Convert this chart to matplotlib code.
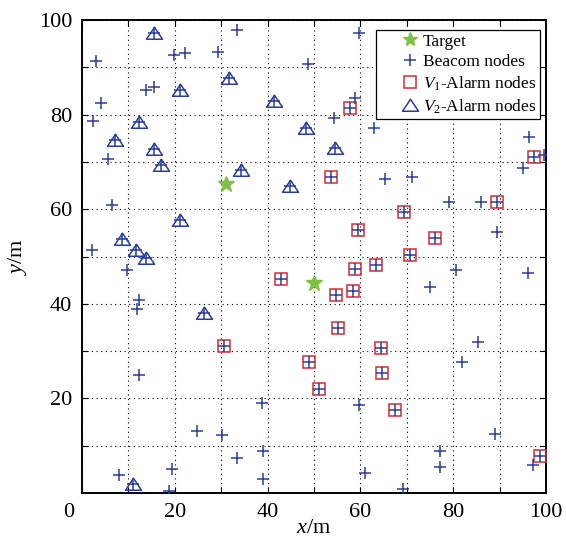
import numpy as np
import matplotlib
matplotlib.use('Agg')
import matplotlib.pyplot as plt
from matplotlib.path import Path
from matplotlib.lines import Line2D

# node positions (m)
beacon_x = [3.1, 19.8, 22.1, 29.3, 33.5, 59.6, 48.7, 4.1, 2.4, 5.7, 13.7, 15.6, 58.9, 54.3, 62.9,
            65.2, 71.2, 96.3, 99.5, 95.0, 6.4, 2.1, 9.6, 12.3, 11.9, 79.0, 85.9, 89.5, 80.5, 96.2,
            75.1, 12.3, 24.8, 30.1, 8.0, 19.4, 18.7, 38.8, 59.6, 33.3, 39.0, 39.0, 61.0, 85.3, 81.8,
            89.0, 77.2, 77.2, 69.1, 97.3]
beacon_y = [91.3, 92.7, 93.0, 93.2, 97.9, 97.2, 90.8, 82.5, 78.7, 70.6, 85.2, 85.9, 83.5, 79.3, 77.1,
            66.4, 66.8, 75.2, 71.4, 68.7, 60.8, 51.3, 47.1, 40.9, 38.9, 61.5, 61.5, 55.1, 47.1, 46.5,
            43.6, 24.9, 13.2, 12.2, 3.7, 5.1, 0.4, 19.1, 18.5, 7.3, 8.8, 2.9, 4.2, 32.0, 27.7,
            12.4, 8.9, 5.5, 0.9, 6.0]

v1_x = [57.8, 53.6, 97.5, 59.5, 63.3, 58.8, 42.9, 58.3, 54.8, 55.2, 89.5, 69.3, 76.1, 70.7,
        30.5, 64.5, 48.9, 64.7, 51.0, 67.5, 98.7]
v1_y = [81.4, 66.8, 71.1, 55.7, 48.3, 47.3, 45.2, 42.8, 41.8, 34.8, 61.5, 59.4, 54.0, 50.3,
        31.1, 30.6, 27.7, 25.4, 22.0, 17.6, 7.8]

v2_x = [15.5, 21.1, 12.3, 7.1, 15.6, 17.1, 31.6, 41.3, 48.3, 54.6, 34.2, 44.8, 21.1, 8.6,
        11.6, 13.9, 26.3, 10.9]
v2_y = [97.3, 85.1, 78.4, 74.6, 72.7, 69.4, 87.8, 82.8, 77.2, 73.0, 68.2, 65.0, 57.7, 53.8,
        51.4, 49.7, 38.0, 2.0]

target_x = [31.1, 50.0]
target_y = [65.4, 44.3]

blue = '#2b3c9e'
red = '#dc2832'
green = '#7dc242'

plt.rcParams['font.family'] = 'Liberation Serif'
plt.rcParams['mathtext.fontset'] = 'custom'
plt.rcParams['mathtext.rm'] = 'Liberation Serif'
plt.rcParams['mathtext.it'] = 'Liberation Serif:italic'

fig = plt.figure(figsize=(5.66, 5.42), dpi=100)
ax = fig.add_axes([82/566, 1-493/542, 464/566, 473/542])

# wide flat triangle
tri = Path([(0, 0.78), (1, -0.72), (-1, -0.72), (0, 0.78)],
           [Path.MOVETO, Path.LINETO, Path.LINETO, Path.CLOSEPOLY])

ax.plot(v1_x, v1_y, 's', ms=8, mfc='none', mec=red, mew=1.1, zorder=3)
ax.plot(v2_x, v2_y, ls='none', marker=tri, ms=11.5, mfc='none', mec=blue, mew=1.1, zorder=3)
all_x = beacon_x + v1_x + v2_x
all_y = beacon_y + v1_y + v2_y
ax.plot(all_x, all_y, '+', ms=8.5, color=blue, mew=1.1, zorder=4)
ax.plot(target_x, target_y, '*', ms=12, mfc=green, mec=green, zorder=5)

ax.set_xlim(0, 100)
ax.set_ylim(0, 100)
ticks = np.arange(0, 101, 10)
labs = ['' if (t % 20 or t == 0) else str(t) for t in ticks]
ax.set_xticks(ticks)
ax.set_xticklabels(labs)
ax.set_yticks(ticks)
ax.set_yticklabels(labs)
ax.tick_params(direction='in', length=4, width=0.8, top=True, right=True,
               labelsize=16, pad=7)
ax.grid(True, color='black', linestyle=(0, (1, 3.2)), linewidth=0.8)
for s in ax.spines.values():
    s.set_linewidth(1.4)

ax.annotate('0', xy=(-2.9, 0), xycoords=ax.get_xaxis_transform(),
            xytext=(0, -7), textcoords='offset points', ha='center', va='top', fontsize=16)

ax.set_xlabel(r'$x$/m', fontsize=16)
ax.set_ylabel(r'$y$/m', fontsize=16)
ax.xaxis.set_label_coords(0.5, -0.056)
ax.yaxis.set_label_coords(-0.115, 0.5)

handles = [
    Line2D([], [], ls='none', marker='*', ms=10, mfc=green, mec=green),
    Line2D([], [], ls='none', marker='+', ms=9, color=blue, mew=1.1),
    Line2D([], [], ls='none', marker='s', ms=8, mfc='none', mec=red, mew=1.1),
    Line2D([], [], ls='none', marker=tri, ms=11.5, mfc='none', mec=blue, mew=1.1),
]
names = ['Target', 'Beacom nodes', r'$V_1$-Alarm nodes', r'$V_2$-Alarm nodes']
leg = ax.legend(handles, names, loc='upper right', bbox_to_anchor=(0.986, 0.979),
                borderaxespad=0, fontsize=12.5, fancybox=False, framealpha=1,
                edgecolor='black', borderpad=0.2, labelspacing=0.25,
                handlelength=3.6, handletextpad=-1.1)
leg.get_frame().set_linewidth(0.9)

fig.savefig('out.png', dpi=100)
